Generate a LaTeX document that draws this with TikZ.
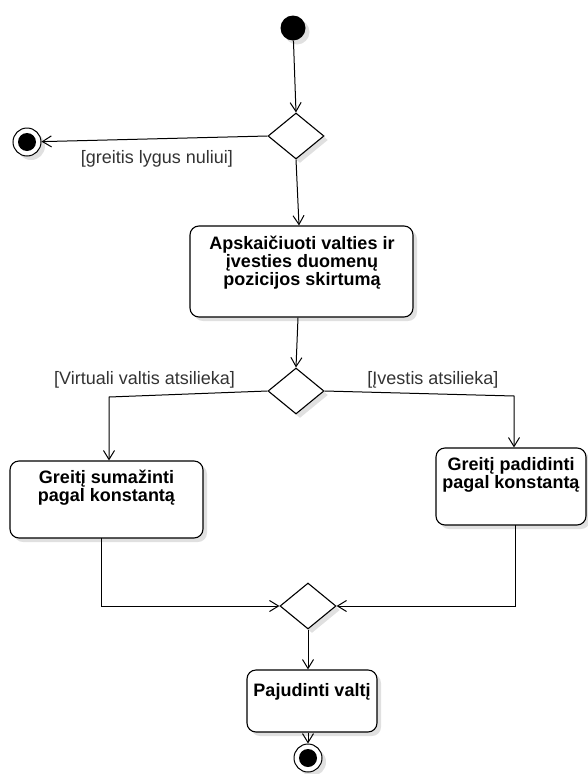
\documentclass[tikz,border=0pt]{standalone}
\usepackage{fontspec}
\setmainfont{Liberation Sans}
\usetikzlibrary{arrows.meta,shapes.geometric,shadows,calc}
\begin{document}
\begin{tikzpicture}[x=1pt,y=-1pt,
  shd/.style={drop shadow={opacity=0.12,shadow xshift=4pt,shadow yshift=-4pt,fill=black}},
  act/.style={draw=black,line width=1.1pt,rounded corners=9pt,fill=white,shd,inner sep=0pt},
  acttext/.style={font=\bfseries\fontsize{18}{18}\selectfont,align=center,inner sep=0pt},
  dec/.style={diamond,draw=black,line width=1.1pt,fill=white,shd,inner sep=0pt,minimum width=56pt,minimum height=46pt},
  guard/.style={font=\fontsize{18}{20}\selectfont,text=black!80,inner sep=0pt},
  flow/.style={draw=black,line width=1pt,-{Straight Barb[length=9pt,width=11pt,line width=1pt]}},
  startnode/.style={circle,fill=black,minimum size=25pt,inner sep=0pt,shd},
  endnode/.style={circle,draw=black,line width=1pt,fill=white,minimum size=28pt,inner sep=0pt,shd,
    path picture={\fill[black] (path picture bounding box.center) circle[radius=9pt];}}
]
\useasboundingbox (0,0) rectangle (587,774);

\node[startnode] (s) at (293,28) {};
\node[dec] (d1) at (296,136) {};
\node[endnode] (f1) at (27,142) {};
\node[guard] (g1) at (157,159) {[greitis lygus nuliui]};

\node[act,minimum width=223pt,minimum height=91pt] (b1) at (301.5,271.5) {};
\node[acttext] (t1) at (302,263) {Apskaičiuoti valties ir\\įvesties duomenų\\pozicijos skirtumą};

\node[dec] (d2) at (296,391) {};
\node[guard] (g2) at (144.5,379.5) {[Virtuali valtis atsilieka]};
\node[guard] (g3) at (433,379.5) {[Įvestis atsilieka]};

\node[act,minimum width=193pt,minimum height=77pt] (b2) at (106.5,499.5) {};
\node[acttext] (t2) at (106.5,488) {Greitį sumažinti\\pagal konstantą};

\node[act,minimum width=150pt,minimum height=77pt] (b3) at (511,486.5) {};
\node[acttext] (t3) at (511,475) {Greitį padidinti\\pagal konstantą};

\node[dec] (d3) at (308,606) {};

\node[act,minimum width=130pt,minimum height=62pt] (b4) at (312,701) {};
\node[acttext] (t4) at (312,692) {Pajudinti valtį};

\node[endnode] (f2) at (308,758) {};

\coordinate (c1) at (109,397);
\coordinate (c2) at (514,396);
\coordinate (c3) at (101,538);
\coordinate (c4) at (515,525);

\draw[flow] (s) -- (d1.north);
\draw[flow] (d1.west) -- (f1);
\draw[flow] (d1.south) -- (b1.north -| 299,0);
\draw[flow] (b1.south -| 298,0) -- (d2.north);
\draw[flow] (d2.west) -- (c1) -- (c1 |- b2.north);
\draw[flow] (d2.east) -- (c2) -- (c2 |- b3.north);
\draw[flow] (c3) |- (d3.west);
\draw[flow] (c4) |- (d3.east);
\draw[flow] (d3.south) -- (b4.north -| d3.south);
\draw[flow] (b4.south -| f2) -- (f2);
\end{tikzpicture}
\end{document}
